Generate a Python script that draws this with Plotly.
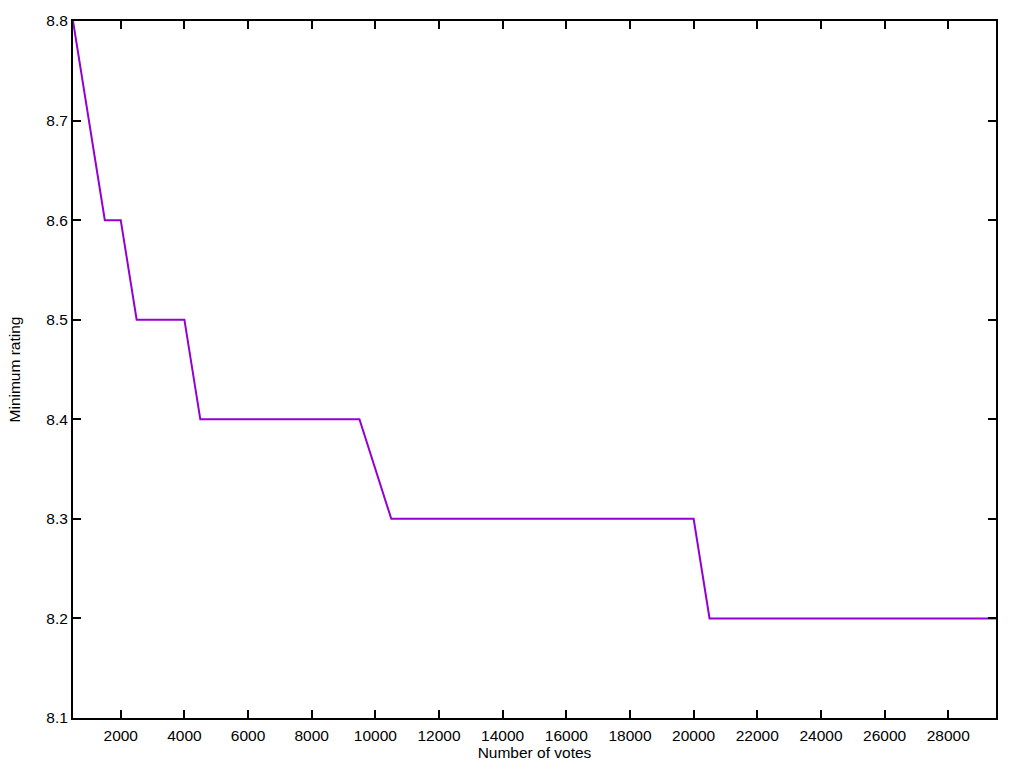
import plotly.graph_objects as go

votes = [500, 1500, 2000, 2500, 4000, 4500, 9500, 10500, 20000, 20500, 29500]
min_rating = [8.8, 8.6, 8.6, 8.5, 8.5, 8.4, 8.4, 8.3, 8.3, 8.2, 8.2]
x_ticks = list(range(2000, 29000, 2000))
y_ticks = [8.1, 8.2, 8.3, 8.4, 8.5, 8.6, 8.7, 8.8]

FONT = "Liberation Sans, Arial, sans-serif"

fig = go.Figure()
fig.add_trace(go.Scatter(x=votes, y=min_rating, mode="lines",
                         line=dict(color="#9400D3", width=2), showlegend=False))

axis_common = dict(showgrid=False, zeroline=False, showline=True, linecolor="black",
                   linewidth=2, mirror="ticks", ticks="inside", ticklen=8,
                   tickwidth=2, tickcolor="black",
                   tickfont=dict(family=FONT, size=15.5, color="black"))

fig.update_xaxes(range=[500, 29500], tickvals=x_ticks, ticktext=[str(v) for v in x_ticks],
                 ticklabelstandoff=2,
                 title=dict(text="Number of votes", standoff=2,
                            font=dict(family=FONT, size=15.5, color="black")),
                 **axis_common)
fig.update_yaxes(range=[8.1, 8.8], tickvals=y_ticks, ticktext=[f"{v:.1f}" for v in y_ticks],
                 ticklabelstandoff=0,
                 title=dict(text="Minimum rating", standoff=22,
                            font=dict(family=FONT, size=15.5, color="black")),
                 **axis_common)

fig.update_layout(width=1024, height=768, plot_bgcolor="white", paper_bgcolor="white",
                  margin=dict(l=73, r=28, t=14, b=50))

fig.write_html("out.html", config={"displayModeBar": False},
               post_script="document.body.style.margin='0';")
